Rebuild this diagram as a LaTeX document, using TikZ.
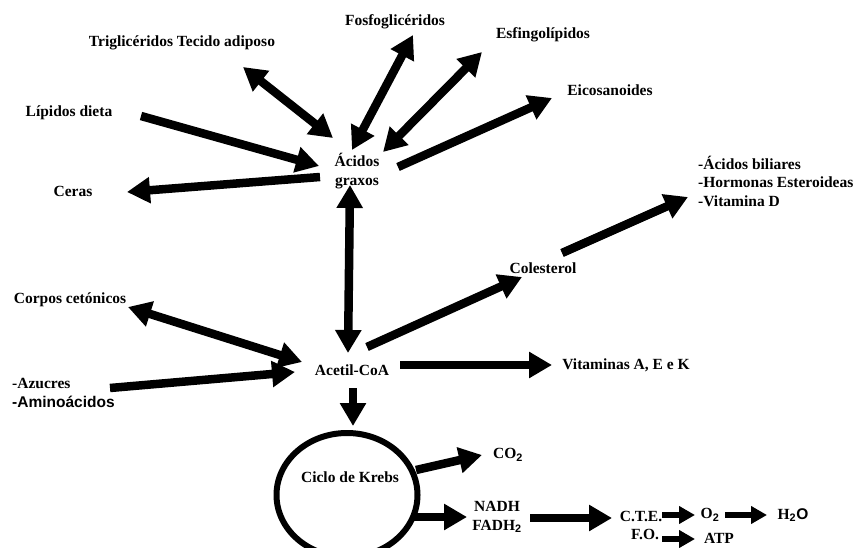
\documentclass[tikz,border=0pt]{standalone}
\usepackage{fontspec}
\setmainfont{Liberation Serif}
\newfontfamily\arialf{Liberation Sans}
\usetikzlibrary{arrows.meta, calc, shapes.geometric}
\newcommand{\subdos}[1]{\textsubscript{\arialf #1}}

\begin{document}
\begin{tikzpicture}[
  x=1pt, y=-1pt,
  lbl/.style   = {font=\fontsize{15.5}{18.5}\selectfont\bfseries,
                  inner sep=0pt, align=center},
  arr/.style   = {-{Triangle[length=23pt, width=25pt]}, line width=8.5pt},
  dbl/.style   = {{Triangle[length=23pt, width=25pt]}-{Triangle[length=23pt, width=25pt]},
                  line width=8.5pt},
  sarr/.style  = {-{Triangle[length=16pt, width=17pt]}, line width=6pt},
  ciclo/.style = {ellipse, draw, line width=6pt,
                  minimum width=141pt, minimum height=124pt},
]
\useasboundingbox (0,0) rectangle (861,548);
\clip (0,0) rectangle (861,548);
% lipidos
\node[lbl] (fosfo)   at (395,22)  {Fosfoglicéridos};
\node[lbl] (trig)    at (182,43)  {Triglicéridos Tecido adiposo};
\node[lbl] (esfingo) at (543,35)  {Esfingolípidos};
\node[lbl] (eicosa)  at (610,90)  {Eicosanoides};
\node[lbl] (lipidos) at (69,113)  {Lípidos dieta};
\node[lbl] (ceras)   at (73,191)  {Ceras};
\node[lbl] (acidos)  at (357,171) {Ácidos\\graxos};
\node[lbl, anchor=west, align=left] (bile) at (698,181)
  {-Ácidos biliares\\-Hormonas Esteroideas\\-Vitamina D};
\node[lbl] (colest)  at (543,268) {Colesterol};
\node[lbl] (corpos)  at (70,300)  {Corpos cetónicos};
\node[lbl] (acetil)  at (352,370) {Acetil-CoA};
\node[lbl] (vitam)   at (626,365) {Vitaminas A, E e K};
\node[lbl, anchor=west, align=left] (azucres) at (12,393)
  {-Azucres\\{\arialf -Aminoácidos}};
% krebs
\node[ciclo] (krebs) at (347,495) {};
\node[lbl] (krebslbl) at (350,477) {Ciclo de Krebs};
\node[lbl] (co2)  at (508,455) {CO\subdos{2}};
\node[lbl] (nadh) at (497,517) {NADH\\FADH\subdos{2}};
\node[lbl] (cte)  at (641,516) {C.T.E.};
\node[lbl] (fo)   at (645,534) {F.O.};
\node[lbl] (o2)   at (710,515) {O\subdos{2}};
\node[lbl] (h2o)  at (793,515) {H\subdos{2}{\arialf O}};
\node[lbl] (atp)  at (719,538) {ATP};
% setas
\draw[dbl] ($(trig)+(61,24)$)     -- ($(acidos)+(-24,-33)$);
\draw[dbl] ($(fosfo)+(18,13)$)    -- ($(acidos)+(-5,-21)$);
\draw[dbl] ($(esfingo)+(-61,17)$) -- ($(acidos)+(26,-19)$);
\draw[arr] ($(acidos)+(41,-4)$)   -- ($(eicosa)+(-58,8)$);
\draw[arr] ($(lipidos)+(72,3)$)   -- ($(acidos)+(-38,-5)$);
\draw[arr] ($(acidos)+(-37,6)$)   -- ($(ceras)+(54,1)$);
\draw[dbl] ($(acidos)+(-7,14)$)   -- ($(acetil)+(-4,-17)$);
\draw[arr] ($(acetil)+(15,-23)$)  -- ($(colest)+(-21,9)$);
\draw[arr] ($(colest)+(19,-15)$)  -- ($(bile.west)+(-10,16)$);
\draw[dbl] ($(corpos)+(58,7)$)    -- ($(acetil)+(-50,-8)$);
\draw[arr] ($(azucres.west)+(98,-5)$) -- ($(acetil)+(-57,2)$);
\draw[arr] ($(acetil)+(48,-5)$)   -- ($(vitam)+(-74,0)$);
\draw[arr] ($(acetil)+(1,18)$)    -- ($(krebs.north)+(6,-4)$);
\draw[arr] ($(krebs)+(69,-25)$)   -- ($(co2)+(-26,0)$);
\draw[arr] ($(krebs)+(66,22)$)    -- ($(nadh)+(-30,0)$);
\draw[arr] ($(nadh)+(33,1)$)      -- ($(cte)+(-29,2)$);
\draw[sarr] ($(cte)+(21,-1)$)     -- ($(o2)+(-15,0)$);
\draw[sarr] ($(o2)+(15,0)$)       -- ($(h2o)+(-26,0)$);
\draw[sarr] ($(fo)+(17,5)$)       -- ($(atp)+(-24,1)$);
\end{tikzpicture}
\end{document}
